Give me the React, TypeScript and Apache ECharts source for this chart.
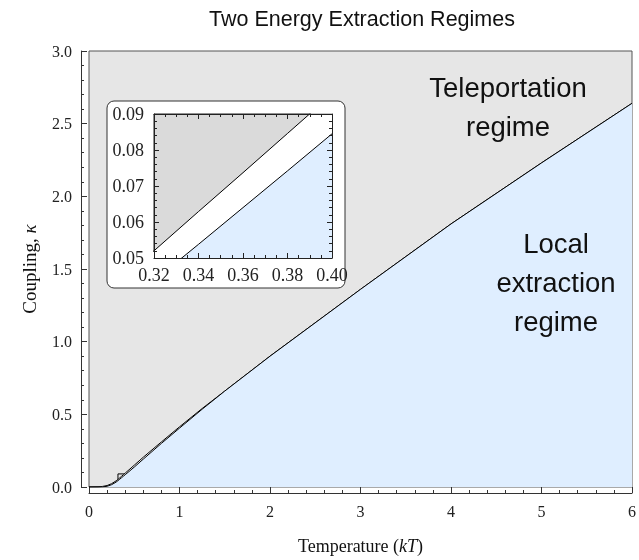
import React, { useEffect, useRef } from "react";
import * as echarts from "echarts";

// Temperature (kT) sample points and the two boundary curves (coupling kappa)
const temperature = [0, 0.1, 0.15, 0.2, 0.25, 0.3, 0.32, 0.34, 0.36, 0.38, 0.4, 0.5, 0.6, 0.8, 1.0, 1.25, 1.5, 2, 3, 4, 5, 6];
const kappaUpper = [0, 0.001, 0.004, 0.01, 0.023, 0.0425, 0.052, 0.0629, 0.0737, 0.0846, 0.0955, 0.15, 0.205, 0.31, 0.414, 0.54, 0.66, 0.9, 1.36, 1.81, 2.23, 2.64];
const kappaLower = [0, 0, 0.001, 0.005, 0.016, 0.034, 0.0437, 0.0538, 0.064, 0.0742, 0.0845, 0.137, 0.192, 0.3, 0.405, 0.535, 0.66, 0.9, 1.36, 1.81, 2.23, 2.64];

// zoomed window shown in the inset
const insetX = [0.32, 0.4];
const insetY = [0.05, 0.09];

const titleText = "Two Energy Extraction Regimes";
const teleText = "Teleportation\nregime";
const localText = "Local\nextraction\nregime";

const GRAY = "#e6e6e6";
const INSET_GRAY = "#dadada";
const BLUE = "#dfeeff";
const SERIF = "Liberation Serif";
const SANS = "Liberation Sans";

export default function App() {
  const ref = useRef<HTMLDivElement>(null);
  useEffect(() => {
    if (!ref.current) return;
    const chart = echarts.init(ref.current, undefined, { renderer: "svg" });
    const upper = temperature.map((t, i) => [t, kappaUpper[i]]);
    const lower = temperature.map((t, i) => [t, kappaLower[i]]);
    const tickLabel = { fontFamily: SERIF, fontSize: 16, color: "#222" };
    const insetLabel = { fontFamily: SERIF, fontSize: 18, color: "#222" };
    const option: any = {
      animation: false,
      title: {
        text: titleText,
        left: 357,
        top: 3,
        textAlign: "center",
        textStyle: { fontFamily: SANS, fontSize: 21.5, fontWeight: "normal", color: "#111" },
      },
      grid: [
        { left: 89, top: 51, width: 545, height: 436, show: true, backgroundColor: GRAY, borderColor: "#555", borderWidth: 1, z: 0 },
        { left: 154, top: 114, width: 178, height: 144, show: true, backgroundColor: INSET_GRAY, borderColor: "#222", borderWidth: 1, z: 10 },
      ],
      xAxis: [
        {
          type: "value", gridIndex: 0, min: 0, max: 6, interval: 1, offset: 6,
          axisLine: { show: true, onZero: false, lineStyle: { color: "#333" } },
          axisTick: { show: true, inside: true, length: 6, lineStyle: { color: "#333" } },
          minorTick: { show: true, splitNumber: 5, length: 3, lineStyle: { color: "#333" } },
          splitLine: { show: false },
          axisLabel: { ...tickLabel, margin: 10 },
          name: "Temperature ({i|kT})",
          nameLocation: "middle",
          nameGap: 44,
          nameTextStyle: { fontFamily: SERIF, fontSize: 18, color: "#111", rich: { i: { fontFamily: SERIF, fontSize: 18, fontStyle: "italic", color: "#111" } } },
        },
        {
          type: "value", gridIndex: 1, min: insetX[0], max: insetX[1], interval: 0.02, z: 12,
          axisLine: { show: true, onZero: false, lineStyle: { color: "#222" } },
          axisTick: { show: true, inside: true, length: 5, lineStyle: { color: "#222" } },
          minorTick: { show: true, splitNumber: 4, length: 3, lineStyle: { color: "#222" } },
          splitLine: { show: false },
          axisLabel: { ...insetLabel, margin: 8, formatter: (v: number) => v.toFixed(2) },
        },
        {
          type: "value", gridIndex: 1, position: "top", min: insetX[0], max: insetX[1], interval: 0.02, z: 12,
          axisLine: { show: true, onZero: false, lineStyle: { color: "#222" } },
          axisTick: { show: true, inside: true, length: 5, lineStyle: { color: "#222" } },
          minorTick: { show: true, splitNumber: 4, length: 3, lineStyle: { color: "#222" } },
          splitLine: { show: false },
          axisLabel: { show: false },
        },
      ],
      yAxis: [
        {
          type: "value", gridIndex: 0, min: 0, max: 3, interval: 0.5, offset: 8,
          axisLine: { show: true, onZero: false, lineStyle: { color: "#333" } },
          axisTick: { show: true, inside: true, length: 6, lineStyle: { color: "#333" } },
          minorTick: { show: true, splitNumber: 5, length: 3, lineStyle: { color: "#333" } },
          splitLine: { show: false },
          axisLabel: { ...tickLabel, margin: 9, formatter: (v: number) => v.toFixed(1) },
          name: "Coupling, {i|κ}",
          nameLocation: "middle",
          nameGap: 42,
          nameTextStyle: { fontFamily: SERIF, fontSize: 19, color: "#111", rich: { i: { fontFamily: SERIF, fontSize: 19, fontStyle: "italic", color: "#111" } } },
        },
        {
          type: "value", gridIndex: 1, min: insetY[0], max: insetY[1], interval: 0.01, z: 12,
          axisLine: { show: true, onZero: false, lineStyle: { color: "#222" } },
          axisTick: { show: true, inside: true, length: 5, lineStyle: { color: "#222" } },
          minorTick: { show: true, splitNumber: 5, length: 3, lineStyle: { color: "#222" } },
          splitLine: { show: false },
          axisLabel: { ...insetLabel, margin: 10, formatter: (v: number) => v.toFixed(2) },
        },
        {
          type: "value", gridIndex: 1, position: "right", min: insetY[0], max: insetY[1], interval: 0.01, z: 12,
          axisLine: { show: true, onZero: false, lineStyle: { color: "#222" } },
          axisTick: { show: true, inside: true, length: 5, lineStyle: { color: "#222" } },
          minorTick: { show: true, splitNumber: 5, length: 3, lineStyle: { color: "#222" } },
          splitLine: { show: false },
          axisLabel: { show: false },
        },
      ],
      series: [
        {
          name: "upper", type: "line", xAxisIndex: 0, yAxisIndex: 0, data: upper, showSymbol: false, z: 2,
          lineStyle: { color: "#000", width: 1 }, areaStyle: { color: "#ffffff", opacity: 1, origin: "start" },
        },
        {
          name: "lower", type: "line", xAxisIndex: 0, yAxisIndex: 0, data: lower, showSymbol: false, z: 3,
          lineStyle: { color: "#000", width: 1 }, areaStyle: { color: BLUE, opacity: 1, origin: "start" },
          markArea: {
            silent: true,
            itemStyle: { color: "rgba(0,0,0,0)", borderColor: "#000", borderWidth: 1 },
            data: [[{ coord: [insetX[0], insetY[0]] }, { coord: [insetX[1], insetY[1]] }]],
          },
        },
        {
          name: "upperInset", type: "line", xAxisIndex: 1, yAxisIndex: 1, data: upper, showSymbol: false, z: 11,
          lineStyle: { color: "#000", width: 1 }, areaStyle: { color: "#ffffff", opacity: 1, origin: "start" },
        },
        {
          name: "lowerInset", type: "line", xAxisIndex: 1, yAxisIndex: 1, data: lower, showSymbol: false, z: 11,
          lineStyle: { color: "#000", width: 1 }, areaStyle: { color: BLUE, opacity: 1, origin: "start" },
        },
      ],
      graphic: [
        {
          type: "rect", z: 5,
          shape: { x: 107, y: 101, width: 238, height: 187, r: 7 },
          style: { fill: "#fff", stroke: "#333", lineWidth: 1 },
        },
        {
          type: "text", z: 20, x: 508, y: 68,
          style: { text: teleText, fontFamily: SANS, fontSize: 27.5, lineHeight: 39, fill: "#111", align: "center", verticalAlign: "top" },
        },
        {
          type: "text", z: 20, x: 556, y: 224,
          style: { text: localText, fontFamily: SANS, fontSize: 27.5, lineHeight: 39, fill: "#111", align: "center", verticalAlign: "top" },
        },
      ],
    };
    chart.setOption(option);
    return () => chart.dispose();
  }, []);
  return <div ref={ref} style={{ position: "fixed", left: 0, top: 0, width: 639, height: 560 }} />;
}
